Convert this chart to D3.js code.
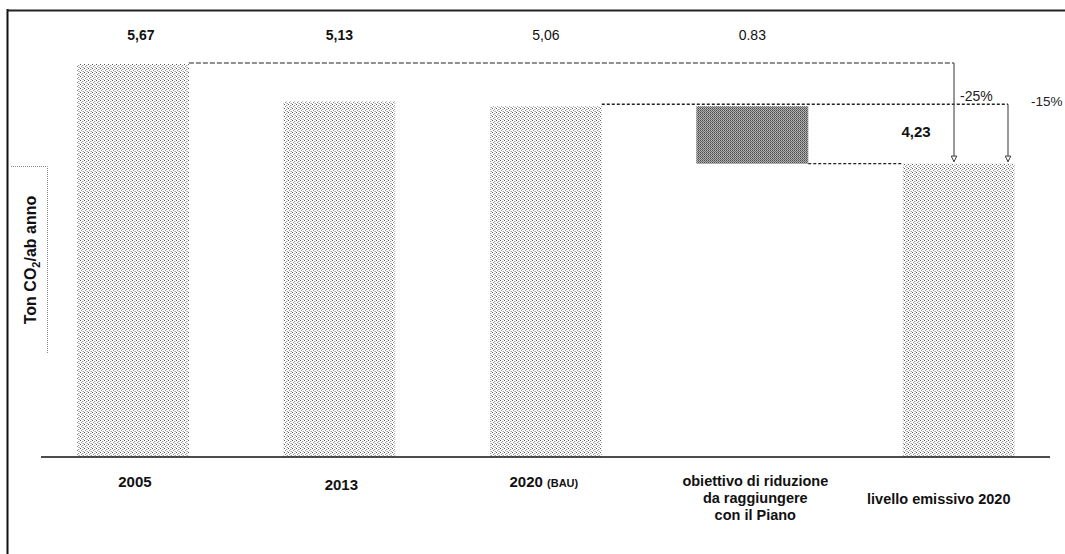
<!DOCTYPE html>
<html>
<head>
<meta charset="utf-8">
<script src="https://cdn.jsdelivr.net/npm/d3@7"></script>
<style>
  html, body { margin: 0; padding: 0; background: #fff; }
  svg { display: block; font-family: "Liberation Sans", Arial, sans-serif; }
</style>
</head>
<body>
<svg id="chart" width="1065" height="554"></svg>
<script>
// ---- data ----
const categories = ["2005", "2013", "2020 (BAU)", "obiettivo di riduzione", "livello emissivo 2020"];
const barBase = [0, 0, 0, 4.23, 0];
const barTop = [5.67, 5.13, 5.06, 5.06, 4.23];
const valueLabels = ["5,67", "5,13", "5,06", "0.83"];
const categoryLabelLines = [
  ["2005"],
  ["2013"],
  ["2020", "(BAU)"],
  ["obiettivo di riduzione", "da raggiungere", "con il Piano"],
  ["livello emissivo 2020"]
];
const reductionLabels = ["-25%", "-15%"];
const reductionFrom = [5.67, 5.06];
const targetValue = 4.23;
const targetLabel = "4,23";
const yAxisTitle = ["Ton CO", "2", "/ab anno"];

// ---- setup ----
const svg = d3.select("#chart");
const W = 1065, H = 554;

const x = d3.scaleBand()
  .domain(categories)
  .range([29.7, 1062])
  .paddingInner(0.458)
  .paddingOuter(0.229);

const y = d3.scaleLinear().domain([0, 5.67]).range([456.5, 64]);

// patterns
const defs = svg.append("defs");
const pLight = defs.append("pattern").attr("id", "stipLight")
  .attr("width", 4).attr("height", 4).attr("patternUnits", "userSpaceOnUse");
pLight.append("rect").attr("width", 4).attr("height", 4).attr("fill", "#fff");
[[0,0,"#5a5a5a"],[2,1,"#a0a0a0"],[1,2,"#909090"],[3,3,"#a4a4a4"],[2,3,"#d0d0d0"],[3,1,"#e0e0e0"]].forEach(d =>
  pLight.append("rect").attr("x", d[0]).attr("y", d[1]).attr("width", 1).attr("height", 1).attr("fill", d[2]));

const pDark = defs.append("pattern").attr("id", "stipDark")
  .attr("width", 2).attr("height", 2).attr("patternUnits", "userSpaceOnUse");
[[0,0,"#4a4a4a"],[1,0,"#b8b8b8"],[0,1,"#a8a8a8"],[1,1,"#6a6a6a"]].forEach(d =>
  pDark.append("rect").attr("x", d[0]).attr("y", d[1]).attr("width", 1).attr("height", 1).attr("fill", d[2]));

// frame
svg.append("line").attr("x1", 7.5).attr("x2", 7.5).attr("y1", 9).attr("y2", H)
  .attr("stroke", "#111").attr("stroke-width", 2);
svg.append("line").attr("x1", 7).attr("x2", W).attr("y1", 10.5).attr("y2", 10.5)
  .attr("stroke", "#222").attr("stroke-width", 2);

// bars
const bars = categories.map((c, i) => ({ c, i, base: barBase[i], top: barTop[i] }));
svg.append("g").selectAll("rect").data(bars).join("rect")
  .attr("x", d => x(d.c))
  .attr("width", x.bandwidth())
  .attr("y", d => y(d.top))
  .attr("height", d => y(d.base) - y(d.top))
  .attr("fill", d => d.base > 0 ? "url(#stipDark)" : "url(#stipLight)");

// baseline
svg.append("line")
  .attr("x1", 41).attr("x2", 1050)
  .attr("y1", y(0) + 0.5).attr("y2", y(0) + 0.5)
  .attr("stroke", "#111").attr("stroke-width", 1.3);

// value labels on top
svg.append("g").selectAll("text").data(valueLabels).join("text")
  .attr("x", (d, i) => x(categories[i]) + x.bandwidth() / 2 + (i === 0 ? 8 : 0))
  .attr("y", 40)
  .attr("text-anchor", "middle")
  .attr("font-size", 14)
  .attr("font-weight", (d, i) => i < 2 ? "bold" : "normal")
  .attr("fill", "#111")
  .text(d => d);

// arrows / connectors
const xArrow1 = 954, xArrow2 = 1008;
defs.append("marker").attr("id", "arrowHead")
  .attr("viewBox", "0 0 10 10").attr("refX", 9).attr("refY", 5)
  .attr("markerWidth", 7).attr("markerHeight", 7).attr("orient", "auto")
  .attr("markerUnits", "userSpaceOnUse")
  .append("path").attr("d", "M1,1 L9,5 L1,9 Z").attr("fill", "#fff").attr("stroke", "#333").attr("stroke-width", 1.4);

// dashed from 2005 top
svg.append("line")
  .attr("x1", x(categories[0]) + x.bandwidth()).attr("x2", xArrow1)
  .attr("y1", y(reductionFrom[0]) - 1).attr("y2", y(reductionFrom[0]) - 1)
  .attr("stroke", "#222").attr("stroke-width", 1.2).attr("stroke-dasharray", "5,2");
// dotted from 2020 BAU top
svg.append("line")
  .attr("x1", x(categories[2]) + x.bandwidth()).attr("x2", xArrow2)
  .attr("y1", y(reductionFrom[1]) - 2).attr("y2", y(reductionFrom[1]) - 2)
  .attr("stroke", "#222").attr("stroke-width", 1.3).attr("stroke-dasharray", "3,2");
// dotted from objective bottom to final bar
svg.append("line")
  .attr("x1", x(categories[3]) + x.bandwidth()).attr("x2", x(categories[4]))
  .attr("y1", y(targetValue)).attr("y2", y(targetValue))
  .attr("stroke", "#222").attr("stroke-width", 1.3).attr("stroke-dasharray", "3,2");

// vertical arrows
[xArrow1, xArrow2].forEach((ax, i) => {
  svg.append("line")
    .attr("x1", ax).attr("x2", ax)
    .attr("y1", y(reductionFrom[i]) - (i === 0 ? 1 : 2)).attr("y2", y(targetValue) - 2)
    .attr("stroke", "#555").attr("stroke-width", 1.2)
    .attr("marker-end", "url(#arrowHead)");
});

// percentage labels
svg.append("text").attr("x", 960).attr("y", 101).attr("font-size", 14).attr("fill", "#222")
  .text(reductionLabels[0]);
svg.append("text").attr("x", 1031).attr("y", 106).attr("font-size", 13.5).attr("fill", "#222")
  .text(reductionLabels[1]);

// target label
svg.append("text")
  .attr("x", 916)
  .attr("y", (y(targetValue) + y(reductionFrom[1])) / 2 - 2)
  .attr("text-anchor", "middle")
  .attr("dominant-baseline", "middle")
  .attr("font-size", 15).attr("font-weight", "bold").attr("fill", "#111")
  .text(targetLabel);

// category labels
const xl = svg.append("g").attr("font-weight", "bold").attr("fill", "#111");
categoryLabelLines.forEach((lines, i) => {
  const cx = x(categories[i]) + x.bandwidth() / 2;
  if (i === 2) {
    const t = xl.append("text").attr("x", cx - 2).attr("y", 487).attr("text-anchor", "middle");
    t.append("tspan").attr("font-size", 15).text(lines[0] + " ");
    t.append("tspan").attr("font-size", 11).text(lines[1]);
  } else if (lines.length > 1) {
    lines.forEach((ln, k) => {
      xl.append("text").attr("x", cx + 3).attr("y", 486 + k * 17)
        .attr("text-anchor", "middle").attr("font-size", 14.5)
        .text(ln);
    });
  } else {
    const yy = i === 4 ? 504 : (i === 1 ? 490 : 487);
    const dx = i === 4 ? -20 : 2;
    xl.append("text").attr("x", cx + dx).attr("y", yy).attr("text-anchor", "middle")
      .attr("font-size", i === 4 ? 14.5 : 15)
      .text(lines[0]);
  }
});

// y axis title with bracket
svg.append("path")
  .attr("d", "M11,166.5 H47.5 V353")
  .attr("fill", "none").attr("stroke", "#888").attr("stroke-width", 1).attr("stroke-dasharray", "1,1");
const yt = svg.append("text")
  .attr("transform", "translate(36,260) rotate(-90)")
  .attr("text-anchor", "middle")
  .attr("font-size", 16).attr("font-weight", "bold").attr("fill", "#111");
yt.append("tspan").text(yAxisTitle[0]);
yt.append("tspan").attr("font-size", 11).attr("dy", 4).text(yAxisTitle[1]);
yt.append("tspan").attr("dy", -4).text(yAxisTitle[2]);
</script>
</body>
</html>
